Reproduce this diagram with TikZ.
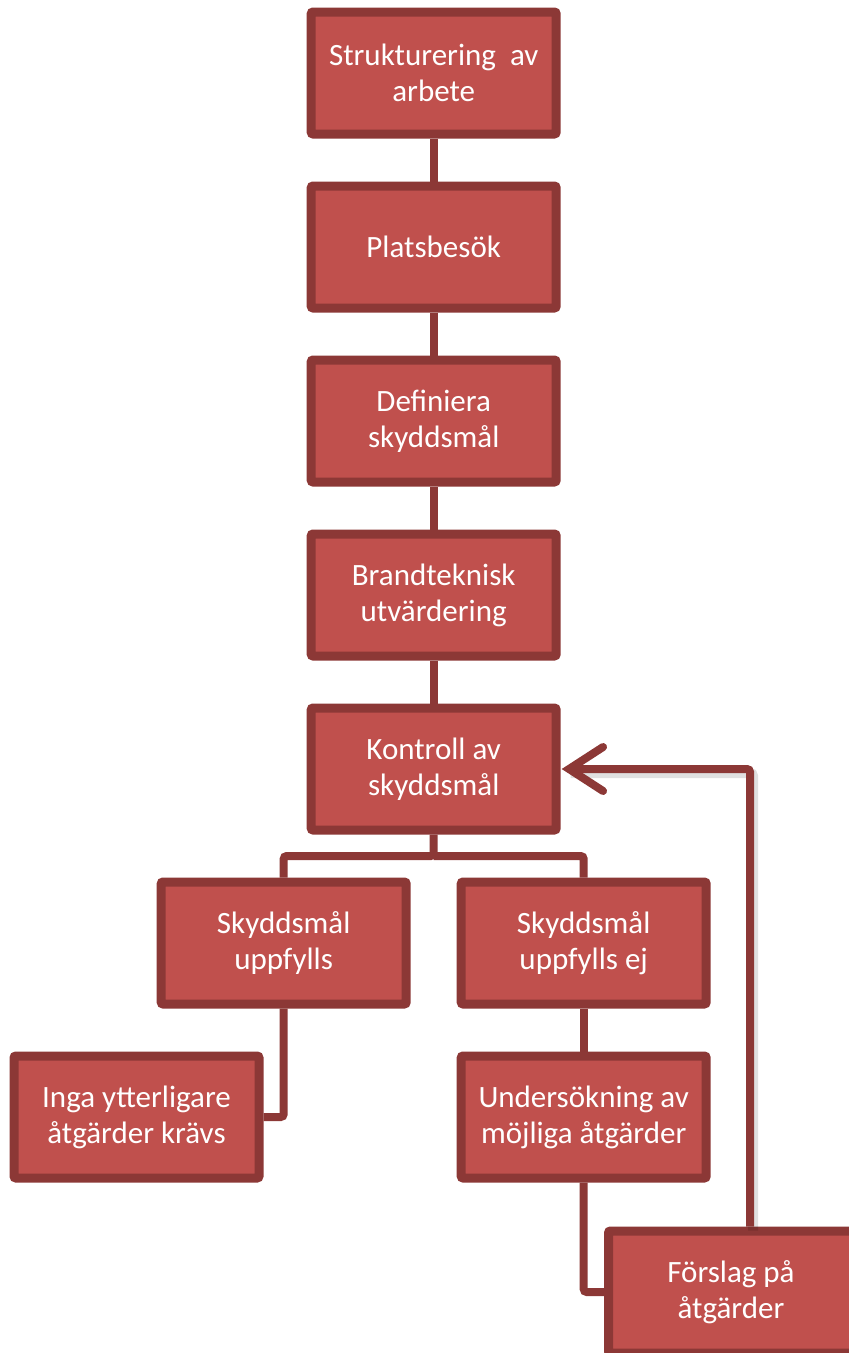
\documentclass[tikz,border=0pt]{standalone}
\usepackage{fontspec}
\setmainfont{Carlito}
\usetikzlibrary{arrows.meta,positioning,calc}
\definecolor{boxfill}{HTML}{C0504D}
\definecolor{boxline}{HTML}{8C3836}
\tikzset{
    stepbox/.style={rectangle, draw=boxline, fill=boxfill, line width=9pt, rounded corners=2pt,
        minimum width=245pt, minimum height=122pt, inner sep=0pt, align=center,
        text=white, font=\fontsize{31}{36}\selectfont},
    link/.style={draw=boxline, line width=8pt, rounded corners=3pt},
    feedback/.style={link, shorten >=1pt, -{Straight Barb[length=34pt,width=44pt,line cap=round]}},
    shade/.style={line width=10pt, black, opacity=0.12, rounded corners=3pt}
}
\begin{document}
\begin{tikzpicture}[x=1pt, y=-1pt]
    \useasboundingbox (0,0) rectangle (849,1353);

    % Nodes
    \node[stepbox] (struk) at (433.7,73) {Strukturering\ \ av\\arbete};
    \node[stepbox] (plats) at (433.7,247) {Platsbesök};
    \node[stepbox] (definiera) at (433.7,421) {Definiera\\skyddsmål};
    \node[stepbox] (brand) at (433.7,595) {Brandteknisk\\utvärdering};
    \node[stepbox] (kontroll) at (433.7,769) {Kontroll av\\skyddsmål};
    \node[stepbox] (ok) at (283.7,943) {Skyddsmål\\uppfylls};
    \node[stepbox] (ej) at (583.7,943) {Skyddsmål\\uppfylls ej};
    \node[stepbox] (inga) at (136.5,1117) {Inga ytterligare\\åtgärder krävs};
    \node[stepbox] (under) at (583.7,1117) {Undersökning av\\möjliga åtgärder};
    \node[stepbox] (forslag) at (731,1292) {Förslag på\\åtgärder};
    \coordinate (split) at (433.7,856);
    \coordinate (turn) at (750,769);

    % Connectors
    \draw[link] (struk) -- (plats);
    \draw[link] (plats) -- (definiera);
    \draw[link] (definiera) -- (brand);
    \draw[link] (brand) -- (kontroll);
    \draw[link] (kontroll.south) -- (split) -| (ok.north);
    \draw[link] (split) -| (ej.north);
    \draw[link] (ok.south) |- (inga.east);
    \draw[link] (ej) -- (under);
    \draw[link] (under.south) |- (forslag.west);

    % Feedback arrow
    \draw[shade] ([xshift=3pt,yshift=-4pt]forslag.north -| turn) |- ([xshift=10pt,yshift=-4pt]kontroll.east);
    \draw[feedback] (forslag.north -| turn) |- (kontroll.east);

\end{tikzpicture}
\end{document}
